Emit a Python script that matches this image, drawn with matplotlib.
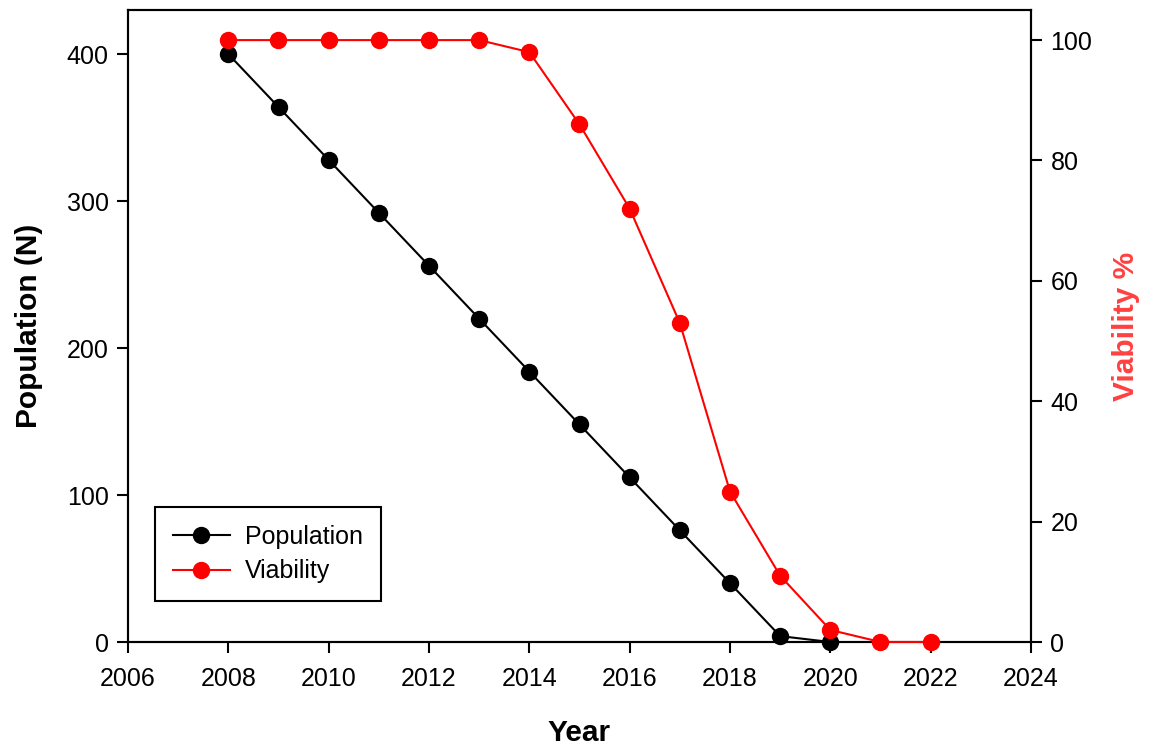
import numpy as np
import matplotlib
matplotlib.use("Agg")
import matplotlib.pyplot as plt

plt.rcParams['font.family'] = ['Liberation Sans', 'DejaVu Sans']

# data
years_pop = [2008, 2009, 2010, 2011, 2012, 2013, 2014, 2015, 2016, 2017, 2018, 2019, 2020]
population = [400, 364, 328, 292, 256, 220, 184, 148, 112, 76, 40, 4, 0]

years_via = [2008, 2009, 2010, 2011, 2012, 2013, 2014, 2015, 2016, 2017, 2018, 2019, 2020, 2021, 2022]
viability = [100, 100, 100, 100, 100, 100, 98, 86, 72, 53, 25, 11, 2, 0, 0]

x_ticks = [2006, 2008, 2010, 2012, 2014, 2016, 2018, 2020, 2022, 2024]

fig = plt.figure(figsize=(11.54, 7.45), dpi=100)
ax = fig.add_axes([128 / 1154, 1 - 642 / 745, (1031 - 128) / 1154, (642 - 10) / 745])
ax2 = ax.twinx()

l1, = ax.plot(years_pop, population, color='black', lw=1.5, marker='o', ms=11.5,
              clip_on=False, zorder=3, label='Population')
l2, = ax2.plot(years_via, viability, color='red', lw=1.5, marker='o', ms=11.5,
               clip_on=False, zorder=3, label='Viability')

ax.set_xlim(2006, 2024)
ax.set_ylim(0, 430)
ax2.set_ylim(0, 105)
ax.set_xticks(x_ticks)
ax.set_yticks([0, 100, 200, 300, 400])
ax2.set_yticks([0, 20, 40, 60, 80, 100])

for a in (ax, ax2):
    a.tick_params(labelsize=18, length=8, width=1.5, direction='out', pad=6)
    for s in a.spines.values():
        s.set_linewidth(1.5)
ax.tick_params(axis='x', pad=10)

ax.set_xlabel('Year', fontsize=21.5, fontweight='bold', labelpad=20)
ax.set_ylabel('Population (N)', fontsize=21.5, fontweight='bold', labelpad=17)
ax2.set_ylabel('Viability %', fontsize=21.5, fontweight='bold', color='#ff4040', labelpad=14)

leg = ax.legend(handles=[l1, l2], loc='lower left', bbox_to_anchor=(0.03, 0.065),
                borderaxespad=0, fontsize=18, frameon=True, fancybox=False, framealpha=1,
                borderpad=0.7, handlelength=2.3, handletextpad=0.6, labelspacing=0.42)
leg.get_frame().set_edgecolor('black')
leg.get_frame().set_linewidth(1.5)

fig.savefig('out.png', dpi=100)
